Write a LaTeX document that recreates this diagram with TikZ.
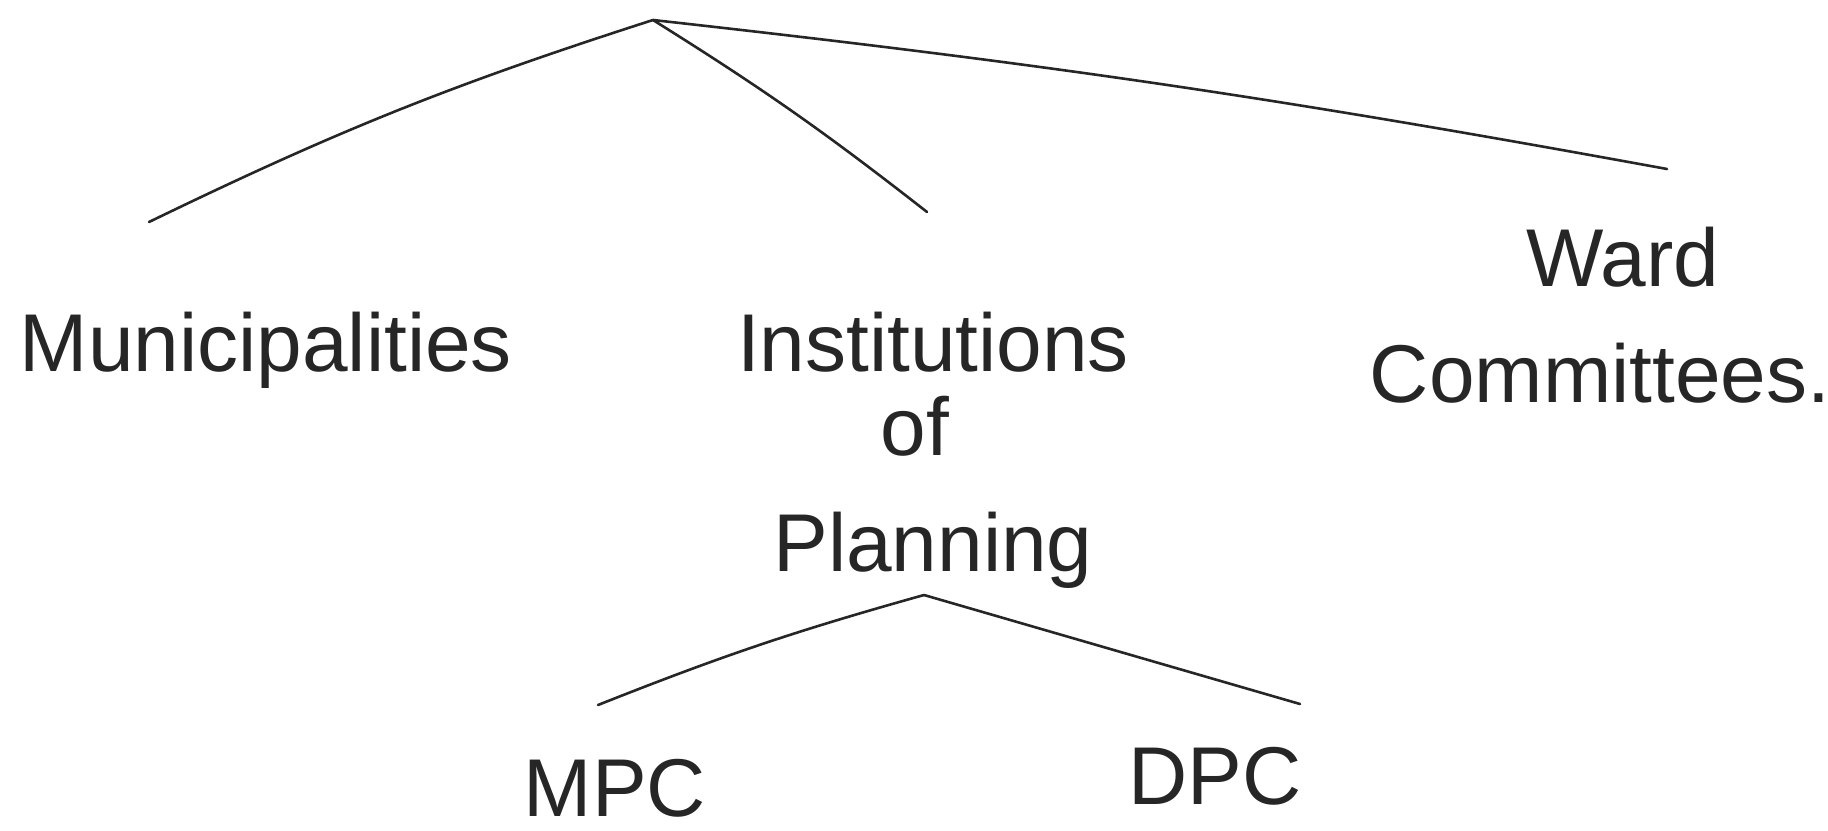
\documentclass[tikz,border=0pt]{standalone}
\usepackage{fontspec}
\setmainfont{Liberation Sans}
\begin{document}
\begin{tikzpicture}[x=1pt,y=-1pt,
  branch/.style={line width=2.6pt, line cap=round, black!85},
  label/.style={anchor=base, inner sep=0pt, font=\fontsize{82}{90}\selectfont, text=black!85}]
\useasboundingbox (0,0) rectangle (1828,830);
% labels
\node[label] (mun) at (266,371) {Municipalities};
\node[label] (inst) at (933,371) {Institutions};
\node[label] (of) at (915,455) {of};
\node[label] (plan) at (933,571) {Planning};
\node[label] (ward) at (1623,286) {Ward};
\node[label] (comm) at (1600,402) {Committees.};
\node[label] (mpc) at (615,816) {MPC};
\node[label] (dpc) at (1215,804) {DPC};
% top tree
\coordinate (apex) at (653,20);
\coordinate (eMun) at (149,222);
\coordinate (eInst) at (927,212);
\coordinate (eWard) at (1667,169);
\draw[branch] (apex) to[bend right=4] (eMun);
\draw[branch] (apex) to[bend left=3] (eInst);
\draw[branch] (apex) to[bend left=2] (eWard);
% lower tree
\coordinate (apex2) at (924,595);
\coordinate (eMpc) at (598,705);
\coordinate (eDpc) at (1300,704);
\draw[branch] (apex2) to[bend right=3] (eMpc);
\draw[branch] (apex2) -- (eDpc);
\end{tikzpicture}
\end{document}
